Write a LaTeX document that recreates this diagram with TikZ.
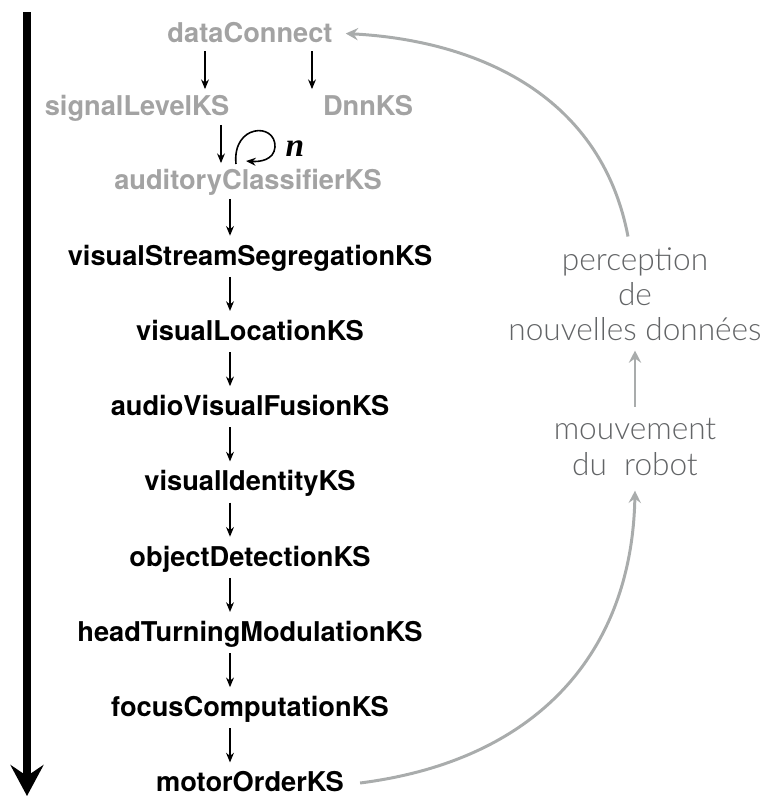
\documentclass[tikz,border=0pt]{standalone}
\usepackage{fontspec}
\setmainfont{TeX Gyre Heros}
\newfontfamily\thinfont{Lato Light}
\newfontfamily\nfont{Liberation Serif}
\usetikzlibrary{arrows.meta}

\definecolor{ksgray}{HTML}{A3A3A3}
\definecolor{txtgray}{HTML}{626466}
\definecolor{linegray}{HTML}{A9ACAC}

\tikzset{
  ks/.style={font=\fontsize{15.5}{18}\selectfont\bfseries, text height=12pt, text depth=2pt, inner ysep=4.5pt},
  ksgrey/.style={ks, text=ksgray, inner ysep=3pt},
  flow/.style={line width=0.7pt, -{Stealth[length=5.5pt,width=4.5pt]}},
  back/.style={draw=linegray, line width=1.7pt, -{Stealth[length=7pt,width=7pt,inset=2.5pt]}},
  note/.style={font=\thinfont\fontsize{18}{20}\selectfont, text=txtgray, align=center, inner sep=2pt}
}

\begin{document}
\begin{tikzpicture}[x=0.02cm, y=-0.02cm]
        \useasboundingbox (0,0) rectangle (762,796);
        % time axis on the left
        \coordinate (tTop) at (27,12);
        \coordinate (tEnd) at (27,796);
        \draw[line width=5pt, -{Stealth[length=0.62cm,width=0.66cm,inset=0.22cm]}] (tTop) -- (tEnd);

        % auditory part (grey)
        \node[ksgrey] (dc) at (250,33.5) {dataConnect};
        \node[ksgrey] (sl) at (137,107) {signalLevelKS};
        \node[ksgrey] (dnn) at (368,107) {DnnKS};
        \node[ksgrey] (ac) at (248,181) {auditoryClassifierKS};

        % visual / motor chain
        \foreach \nm/\txt [count=\i] in {vss/visualStreamSegregationKS, vl/visualLocationKS,
            avf/audioVisualFusionKS, vi/visualIdentityKS, od/objectDetectionKS,
            htm/headTurningModulationKS, fc/focusComputationKS, mo/motorOrderKS}
          \node[ks] (\nm) at (250,{181+75.25*\i}) {\txt};

        % arrow lanes
        \coordinate (laneL) at (205,0);
        \coordinate (laneR) at (312,0);
        \coordinate (laneS) at (221,0);
        \coordinate (lane) at (230,0);

        \draw[flow] (dc.south -| laneL) -- (sl.north -| laneL);
        \draw[flow] (dc.south -| laneR) -- (dnn.north -| laneR);
        \draw[flow] (sl.south -| laneS) -- (ac.north -| laneS);
        \draw[flow] (ac.south -| lane) -- (vss.north -| lane);
        \foreach \a/\b in {vss/vl, vl/avf, avf/vi, vi/od, od/htm, htm/fc, fc/mo}
          \draw[flow] (\a.south -| lane) -- (\b.north -| lane);

        % repeated n times
        \coordinate (loopIn) at (236,164);
        \coordinate (loopOut) at (246,161);
        \draw[flow, line width=0.9pt] (loopIn) .. controls (232,124) and (276,122) .. (275,147)
          .. controls (274,160) and (260,162) .. (loopOut);
        \node[font=\nfont\bfseries\itshape\fontsize{19}{20}\selectfont, inner sep=0pt] (rep) at (295,149) {n};

        % robot loop
        \node[note] (pc) at (635,294) {perception\\de\\nouvelles données};
        \node[note] (mv) at (635,447) {mouvement\\du\ \ robot};

        \draw[back] ([yshift=0.16cm]mv.north) -- ([yshift=-0.12cm]pc.south);
        \draw[back] ([xshift=-0.14cm,yshift=0.14cm]pc.north) .. controls (600,90) and (470,40) .. ([xshift=0.14cm]dc.east);
        \draw[back] ([xshift=0.2cm]mo.east) .. controls (540,760) and (632,650) .. ([yshift=-0.23cm]mv.south);
      \end{tikzpicture}
\end{document}
